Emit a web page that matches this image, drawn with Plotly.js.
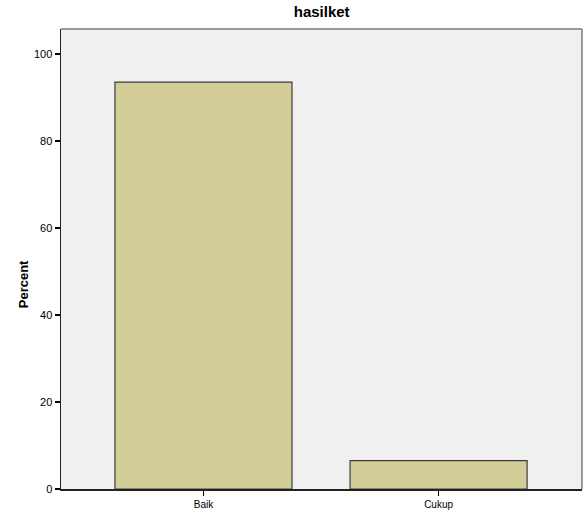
<!DOCTYPE html>
<html><head><meta charset="utf-8">
<script src="https://cdn.plot.ly/plotly-3.0.1.min.js"></script>
<style>html,body{margin:0;padding:0;background:#fff}</style>
</head><body>
<div id="chart" style="width:587px;height:513px"></div>
<script>
var categories = ["Baik", "Cukup"];
var percentValues = [93.5, 6.5];
var yTickValues = [0, 20, 40, 60, 80, 100];

var trace = {
  type: "bar",
  x: categories,
  y: percentValues,
  width: 0.753,
  marker: {color: "#D3CE97", line: {color: "#3C3C3C", width: 1.2}},
  hoverinfo: "x+y"
};

var layout = {
  width: 587, height: 513,
  margin: {l: 61, r: 5, t: 29, b: 24},
  paper_bgcolor: "#ffffff",
  plot_bgcolor: "#F0F0F0",
  showlegend: false,
  font: {family: "Liberation Sans, Arial, sans-serif", color: "#000"},
  title: {text: "<b>hasilket</b>", x: 0.548, xanchor: "center", y: 0.977, yanchor: "middle",
          font: {size: 15, family: "Liberation Sans, Arial, sans-serif", color: "#000"}},
  xaxis: {
    range: [-0.606, 1.61],
    showgrid: false, zeroline: false,
    showline: true, linecolor: "#222", linewidth: 1.5,
    ticks: "outside", ticklen: 5, tickwidth: 1.5, tickcolor: "#000",
    tickfont: {size: 10, family: "Liberation Sans, Arial, sans-serif"},
    fixedrange: true
  },
  yaxis: {
    range: [0, 105.7],
    tickvals: yTickValues,
    showgrid: false, zeroline: false,
    showline: true, linecolor: "#222", linewidth: 1.5,
    ticks: "outside", ticklen: 5, tickwidth: 1.5, tickcolor: "#000",
    tickfont: {size: 11, family: "Liberation Sans, Arial, sans-serif"},
    fixedrange: true
  },
  shapes: [
    {type: "line", xref: "paper", yref: "paper", x0: 0, x1: 1, y0: 1, y1: 1,
     line: {color: "#7A7A7A", width: 1.5}, layer: "above"},
    {type: "line", xref: "paper", yref: "paper", x0: 1, x1: 1, y0: 0, y1: 1,
     line: {color: "#7A7A7A", width: 1.5}, layer: "above"}
  ],
  annotations: [{
    text: "<b>Percent</b>", xref: "paper", yref: "paper",
    x: -0.073, y: 0.445, xanchor: "center", yanchor: "middle",
    textangle: -90, showarrow: false,
    font: {size: 13, family: "Liberation Sans, Arial, sans-serif", color: "#000"}
  }]
};

Plotly.newPlot("chart", [trace], layout, {displayModeBar: false, staticPlot: true});
</script>
</body></html>
